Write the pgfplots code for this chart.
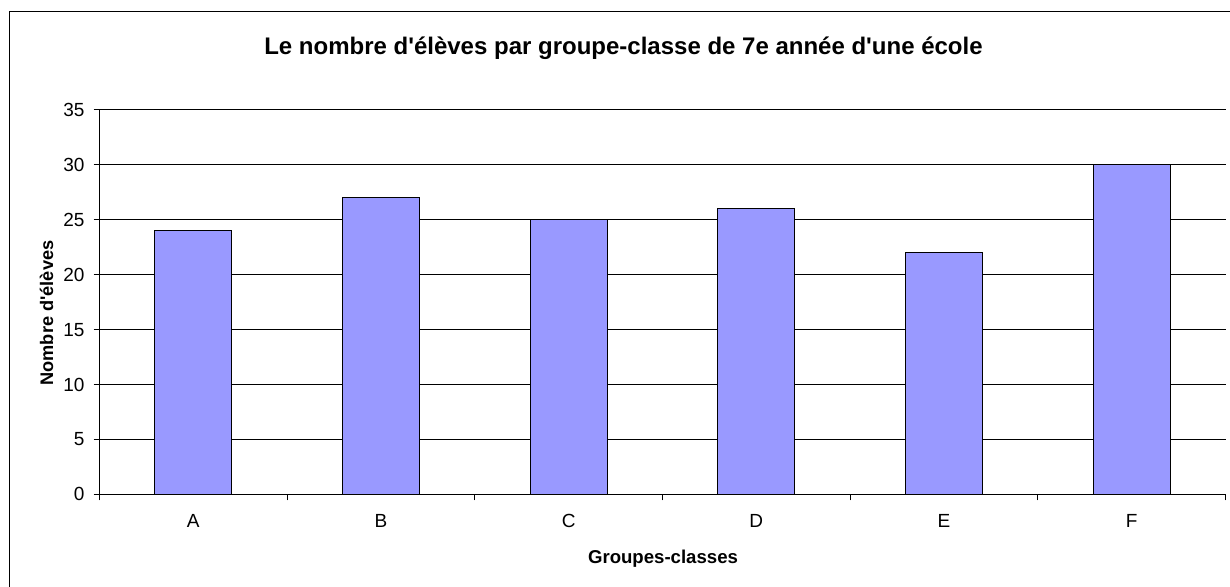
\documentclass[border=0pt]{standalone}
\usepackage{fontspec}
\setmainfont{Liberation Sans}[Ligatures=TeXOff]
\usepackage{pgfplots}
\pgfplotsset{compat=1.18}
\definecolor{barfill}{HTML}{9999FF}
\begin{document}
\begin{tikzpicture}
\useasboundingbox (0,0) rectangle (615pt,293.5pt);
\begin{scope}
\clip (0,0) rectangle (615pt,293.5pt);
\draw[line width=0.5pt] (4.5pt,-5pt) rectangle (620pt,287.5pt);
\end{scope}
\begin{axis}[
    at={(49.75pt,46.35pt)}, anchor=south west,
    scale only axis, width=563pt, height=192.15pt,
    xmin=-0.5, xmax=5.5, ymin=0, ymax=35,
    ytick={0,5,...,35},
    xtick={-0.5,0.5,...,5.5}, xticklabels={},
    extra x ticks={0,1,2,3,4,5},
    extra x tick labels={A,B,C,D,E,F},
    extra x tick style={major tick length=0pt, grid=none},
    axis x line=bottom, axis y line=left,
    axis line style={-, line width=0.5pt, black},
    tick align=outside, major tick length=3pt,
    tick style={black, line width=0.5pt},
    ymajorgrids, grid style={black, line width=0.5pt},
    /pgf/number format/assume math mode=true,
    ticklabel style={font=\fontsize{9.5}{11}\selectfont},
    xticklabel style={yshift=-6pt, text height=7pt},
    yticklabel style={xshift=-1pt},
]
\addplot[ybar, fill=barfill, draw=black, line width=0.6pt, bar width=38.5pt]
  coordinates {(0,24) (1,27) (2,25) (3,26) (4,22) (5,30)};
\end{axis}
\node[anchor=base, font=\bfseries\fontsize{12}{14}\selectfont] at (311.75pt,266pt)
  {Le nombre d'élèves par groupe-classe de 7e année d'une école};
\node[anchor=base, rotate=90, font=\bfseries\fontsize{9.1}{11}\selectfont] at (26.5pt,137pt)
  {Nombre d'élèves};
\node[anchor=base, font=\bfseries\fontsize{9.3}{11}\selectfont] at (331.5pt,11.5pt)
  {Groupes-classes};
\end{tikzpicture}
\end{document}
